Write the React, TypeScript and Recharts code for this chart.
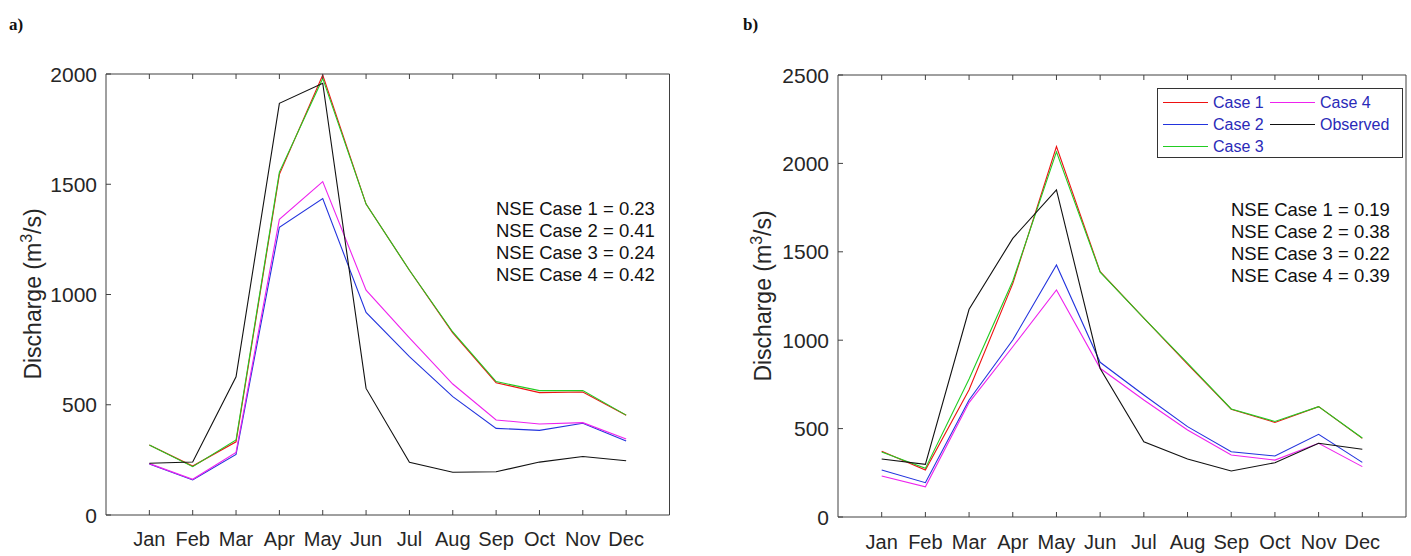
import { LineChart, Line, XAxis, YAxis, Legend } from "recharts";

const MONTHS = ["Jan", "Feb", "Mar", "Apr", "May", "Jun", "Jul", "Aug", "Sep", "Oct", "Nov", "Dec"];
const MONTH_TICKS = [1, 2, 3, 4, 5, 6, 7, 8, 9, 10, 11, 12];

// panel a) values, m3/s
const case1A = [318, 222, 332, 1545, 1995, 1410, 1110, 826, 600, 555, 558, 452];
const case2A = [231, 159, 275, 1305, 1435, 919, 718, 537, 393, 384, 416, 336];
const case3A = [317, 219, 340, 1555, 1980, 1410, 1110, 830, 605, 564, 564, 453];
const case4A = [233, 162, 284, 1341, 1512, 1020, 803, 594, 431, 413, 419, 345];
const observedA = [235, 240, 627, 1867, 1958, 574, 239, 194, 196, 240, 265, 246];

// panel b) values, m3/s
const case1B = [372, 266, 720, 1320, 2095, 1388, 1125, 865, 610, 535, 624, 445];
const case2B = [266, 194, 662, 1001, 1425, 875, 690, 511, 369, 345, 468, 309];
const case3B = [368, 275, 780, 1335, 2065, 1385, 1125, 870, 611, 540, 624, 447];
const case4B = [232, 171, 647, 963, 1284, 841, 662, 492, 351, 322, 417, 285];
const observedB = [328, 298, 1175, 1576, 1850, 840, 426, 328, 260, 307, 417, 383];

const TICKS_A = [0, 500, 1000, 1500, 2000];
const TICKS_B = [0, 500, 1000, 1500, 2000, 2500];

const NSE_A = ["0.23", "0.41", "0.24", "0.42"];
const NSE_B = ["0.19", "0.38", "0.22", "0.39"];

const SERIES = [
  { key: "c1", name: "Case 1", color: "#ee1111" },
  { key: "c2", name: "Case 2", color: "#2233dd" },
  { key: "c3", name: "Case 3", color: "#22cc22" },
  { key: "c4", name: "Case 4", color: "#ee22ee" },
  { key: "obs", name: "Observed", color: "#111111" },
];

const FONT = "'Liberation Sans', Arial, sans-serif";
const AXIS = "#404040";
const TEXT = "#262626";

function buildRows(c1: number[], c2: number[], c3: number[], c4: number[], obs: number[]) {
  return MONTHS.map((_, i) => ({ m: i + 1, c1: c1[i], c2: c2[i], c3: c3[i], c4: c4[i], obs: obs[i] }));
}

const rowsA = buildRows(case1A, case2A, case3A, case4A, observedA);
const rowsB = buildRows(case1B, case2B, case3B, case4B, observedB);

// MATLAB style ticks: inward, labels outside
const bottomTick = (dy: number) => (props: any) => {
  const { x, y, payload } = props;
  return (
    <g>
      <line x1={x} y1={y} x2={x} y2={y - 5} stroke={AXIS} />
      <text x={x} y={y + dy} textAnchor="middle" fontSize={20} fontFamily={FONT} fill={TEXT}>
        {MONTHS[payload.value - 1]}
      </text>
    </g>
  );
};

const topTick = (props: any) => {
  const { x, y } = props;
  return <line x1={x} y1={y} x2={x} y2={y + 5} stroke={AXIS} />;
};

const leftTick = (props: any) => {
  const { x, y, payload } = props;
  return (
    <g>
      <line x1={x} y1={y} x2={x + 5} y2={y} stroke={AXIS} />
      <text x={x - 9} y={y + 7.5} textAnchor="end" fontSize={21} fontFamily={FONT} fill={TEXT}>
        {payload.value}
      </text>
    </g>
  );
};

const rightTick = (props: any) => {
  const { x, y } = props;
  return <line x1={x} y1={y} x2={x - 5} y2={y} stroke={AXIS} />;
};

function LegendBox() {
  return (
    <div
      style={{
        width: 246,
        height: 70,
        boxSizing: "border-box",
        border: "1px solid #333",
        background: "#fff",
        position: "relative",
        fontFamily: FONT,
        fontSize: 16,
        color: "#2a2ab8",
      }}
    >
      {SERIES.map((s, i) => {
        const col = i < 3 ? 0 : 1;
        const row = i < 3 ? i : i - 3;
        const left = col === 0 ? 5 : 112;
        const top = 14 + row * 22;
        return (
          <div key={s.key}>
            <div style={{ position: "absolute", left, top: top - 1, width: 45, height: 1.2, background: s.color }} />
            <div style={{ position: "absolute", left: left + 50, top: top - 10, lineHeight: "20px", whiteSpace: "nowrap" }}>
              {s.name}
            </div>
          </div>
        );
      })}
    </div>
  );
}

interface PanelProps {
  rows: any[];
  ticks: number[];
  left: number;
  width: number;
  // plot box edges inside this chart
  box: { top: number; right: number; bottom: number; left: number };
  labelDy: number;
  showLegend?: boolean;
}

const BOTTOM_H = 30;
const LEFT_W = 40;

function Panel({ rows, ticks, left, width, box, labelDy, showLegend }: PanelProps) {
  const yMax = ticks[ticks.length - 1];
  const margin = {
    top: box.top - 1,
    right: box.right - 1,
    bottom: box.bottom - BOTTOM_H,
    left: box.left - LEFT_W,
  };
  return (
    <div style={{ position: "absolute", left, top: 0 }}>
      <LineChart width={width} height={556} data={rows} margin={margin}>
        <XAxis
          xAxisId="b"
          type="number"
          dataKey="m"
          domain={[0, 13]}
          ticks={MONTH_TICKS}
          height={BOTTOM_H}
          tickSize={0}
          tickMargin={0}
          tickLine={false}
          axisLine={{ stroke: AXIS }}
          tick={bottomTick(labelDy)}
          interval={0}
        />
        <XAxis
          xAxisId="t"
          orientation="top"
          type="number"
          dataKey="m"
          domain={[0, 13]}
          ticks={MONTH_TICKS}
          height={1}
          tickSize={0}
          tickMargin={0}
          tickLine={false}
          axisLine={{ stroke: AXIS }}
          tick={topTick}
          interval={0}
        />
        <YAxis
          yAxisId="l"
          type="number"
          domain={[0, yMax]}
          ticks={ticks}
          width={LEFT_W}
          tickSize={0}
          tickMargin={0}
          tickLine={false}
          axisLine={{ stroke: AXIS }}
          tick={leftTick}
          interval={0}
        />
        <YAxis
          yAxisId="r"
          orientation="right"
          type="number"
          domain={[0, yMax]}
          ticks={ticks}
          width={1}
          tickSize={0}
          tickMargin={0}
          tickLine={false}
          axisLine={{ stroke: AXIS }}
          tick={rightTick}
          interval={0}
        />
        {SERIES.map((s) => (
          <Line
            key={s.key}
            xAxisId="b"
            yAxisId="l"
            type="linear"
            dataKey={s.key}
            name={s.name}
            stroke={s.color}
            strokeWidth={1.1}
            dot={false}
            activeDot={false}
            isAnimationActive={false}
          />
        ))}
        {showLegend && (
          <Legend
            layout="horizontal"
            verticalAlign="middle"
            align="center"
            wrapperStyle={{ left: 457, top: 88, width: 246, height: 70 }}
            content={() => <LegendBox />}
          />
        )}
      </LineChart>
    </div>
  );
}

function YTitle({ cx, cy }: { cx: number; cy: number }) {
  return (
    <div
      style={{
        position: "absolute",
        left: cx,
        top: cy,
        transform: "translate(-50%, -50%) rotate(-90deg)",
        whiteSpace: "nowrap",
        fontFamily: FONT,
        fontSize: 23,
        color: TEXT,
        lineHeight: "26px",
      }}
    >
      Discharge (m<sup style={{ fontSize: 16, lineHeight: 0 }}>3</sup>/s)
    </div>
  );
}

function NseBlock({ left, top, values }: { left: number; top: number; values: string[] }) {
  return (
    <div style={{ position: "absolute", left, top, fontFamily: FONT, fontSize: 18.5, lineHeight: "22px", color: "#111" }}>
      {values.map((v, i) => (
        <div key={i} style={{ whiteSpace: "nowrap" }}>
          NSE Case {i + 1} = {v}
        </div>
      ))}
    </div>
  );
}

function PanelLabel({ left, text }: { left: number; text: string }) {
  return (
    <div
      style={{
        position: "absolute",
        left,
        top: 16,
        fontFamily: "'Liberation Serif', 'DejaVu Serif', serif",
        fontWeight: "bold",
        fontSize: 17,
        lineHeight: "18px",
        color: "#111",
      }}
    >
      {text}
    </div>
  );
}

export default function App() {
  return (
    <div style={{ position: "absolute", left: 0, top: 0, width: 1411, height: 556, background: "#fff", overflow: "hidden" }}>
      <Panel
        rows={rowsA}
        ticks={TICKS_A}
        left={0}
        width={690}
        box={{ top: 74, right: 20.5, bottom: 41, left: 106 }}
        labelDy={31}
      />
      <Panel
        rows={rowsB}
        ticks={TICKS_B}
        left={700}
        width={711}
        box={{ top: 75, right: 5, bottom: 39, left: 138 }}
        labelDy={32}
        showLegend
      />
      <YTitle cx={33} cy={294} />
      <YTitle cx={763} cy={296} />
      <NseBlock left={496} top={198} values={NSE_A} />
      <NseBlock left={1231} top={199} values={NSE_B} />
      <PanelLabel left={9} text="a)" />
      <PanelLabel left={743} text="b)" />
    </div>
  );
}
